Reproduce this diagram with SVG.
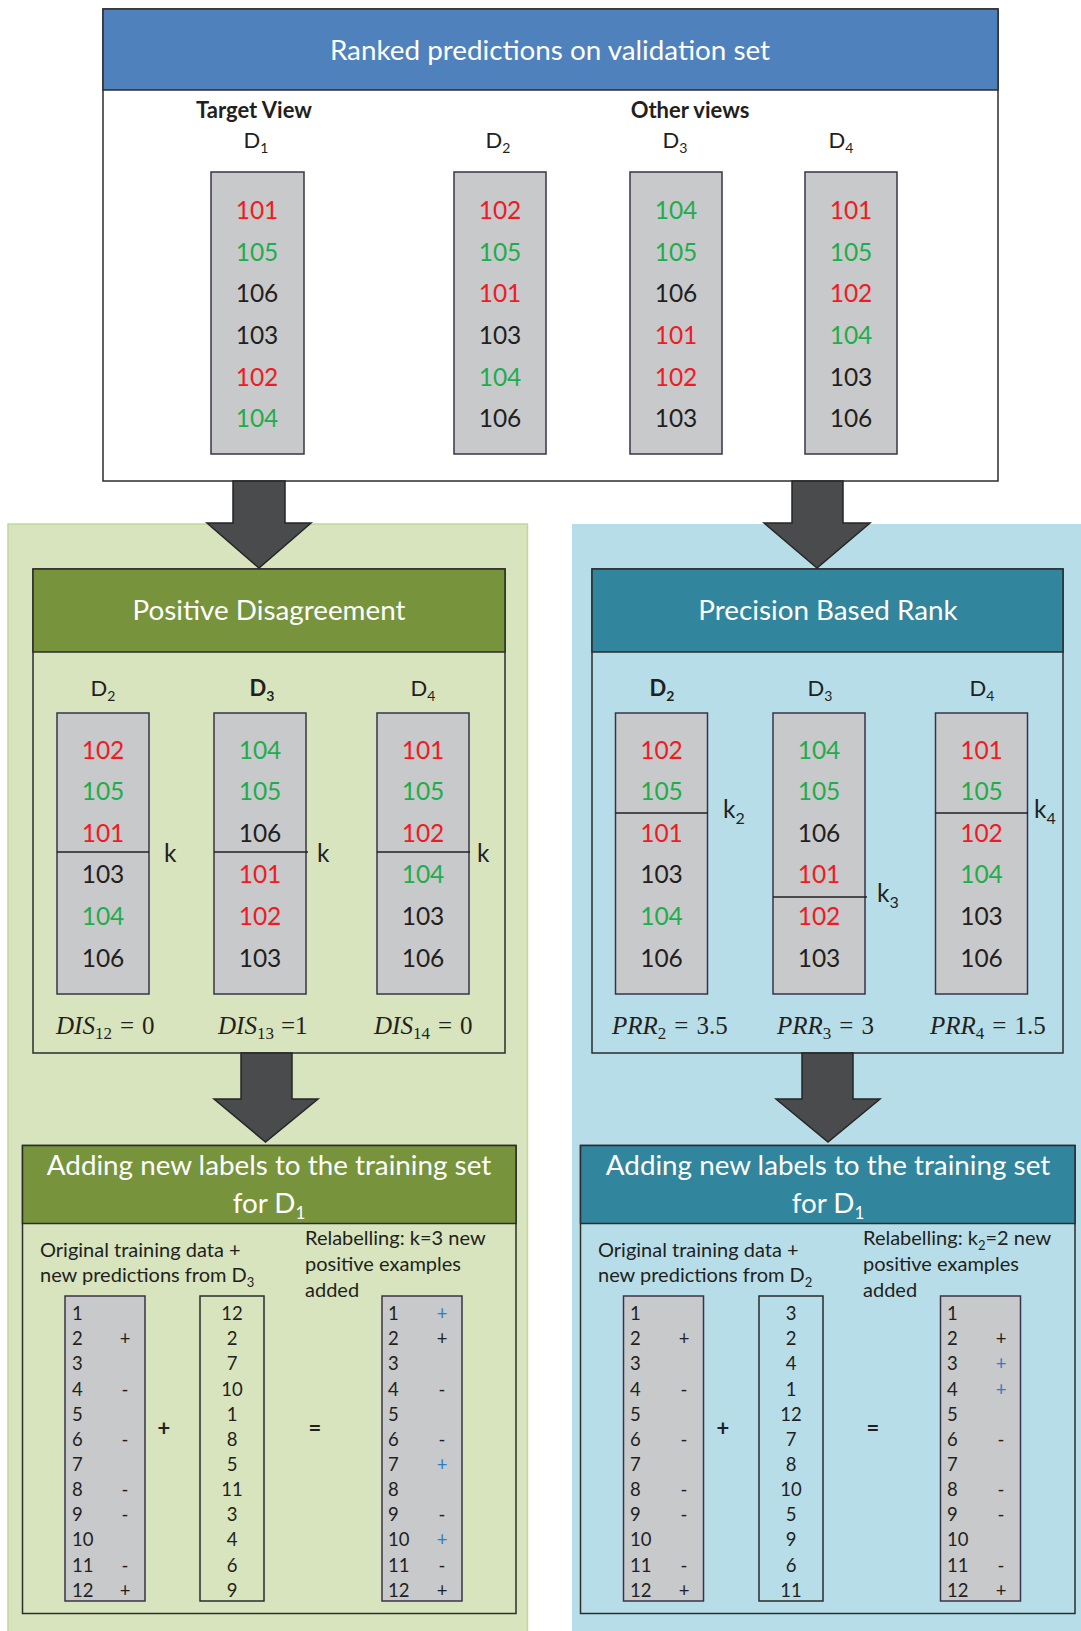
<svg xmlns="http://www.w3.org/2000/svg" width="1081" height="1631" viewBox="0 0 1081 1631">
<style>
text{font-family:Lato,"Liberation Sans",sans-serif;fill:#231F20}
.hdr{font-size:27.8px;fill:#fff;text-anchor:middle}
.hdr tspan{fill:#fff}
.lbl{font-size:22px;text-anchor:middle}
.bold{font-weight:bold}
.num{font-size:24.5px;text-anchor:middle}
.ks{font-size:24.5px;text-anchor:start}
.r{fill:#ED1C24}
.g{fill:#1EAD4B}
.col{fill:#C8C9CB;stroke:#3B3349;stroke-width:1.5}
.col2{fill:none;stroke:#2B2B2B;stroke-width:1.5}
.frame{fill:none;stroke:#2D2D2D;stroke-width:1.5}
.arrow{fill:#4A4B4D;stroke:#262626;stroke-width:1.5}
.math{font-family:"Liberation Serif",serif;font-size:25px}
.it{font-style:italic}
.tb{font-size:18.5px}
.tbm{font-size:18.5px;text-anchor:middle}
.body{font-size:20px}
.op{font-size:22px;font-weight:bold;text-anchor:middle}
.blue{fill:#2F7DC8}
.kl{stroke:#231F20;stroke-width:1.5}
</style>

<g id="panel-green"><rect x="8" y="524" width="519.5" height="1108" fill="#D7E4BD" stroke="#C3D69B" stroke-width="1.5"/></g>
<g id="panel-blue"><rect x="572" y="524" width="510" height="1108" fill="#B7DEE8"/></g>

<g id="node-ranked">
<rect x="103" y="9" width="895" height="472" fill="#fff" stroke="#2D2D2D" stroke-width="1.5"/>
<rect x="103" y="9" width="895" height="81" fill="#4F81BD" stroke="#2D2D2D" stroke-width="1.5"/>
<text class="hdr" x="550" y="60">Ranked predictions on validation set</text>
<text class="lbl bold" x="254" y="118" font-size="22.5">Target View</text>
<text class="lbl bold" x="690" y="118" font-size="22.5">Other views</text>
<text class="lbl" x="256" y="148">D<tspan font-size="14" dy="5">1</tspan></text>
<text class="lbl" x="498" y="148">D<tspan font-size="14" dy="5">2</tspan></text>
<text class="lbl" x="675" y="148">D<tspan font-size="14" dy="5">3</tspan></text>
<text class="lbl" x="841" y="148">D<tspan font-size="14" dy="5">4</tspan></text>
<rect class="col" x="211" y="172" width="93" height="282" stroke="#231F20"/>
<rect class="col" x="454" y="172" width="92" height="282"/>
<rect class="col" x="630" y="172" width="92" height="282"/>
<rect class="col" x="805" y="172" width="92" height="282"/>
<text class="num"><tspan x="257" y="219" class="r">101</tspan><tspan x="257" y="261" class="g">105</tspan><tspan x="257" y="302">106</tspan><tspan x="257" y="344">103</tspan><tspan x="257" y="386" class="r">102</tspan><tspan x="257" y="427" class="g">104</tspan></text>
<text class="num"><tspan x="500" y="219" class="r">102</tspan><tspan x="500" y="261" class="g">105</tspan><tspan x="500" y="302" class="r">101</tspan><tspan x="500" y="344">103</tspan><tspan x="500" y="386" class="g">104</tspan><tspan x="500" y="427">106</tspan></text>
<text class="num"><tspan x="676" y="219" class="g">104</tspan><tspan x="676" y="261" class="g">105</tspan><tspan x="676" y="302">106</tspan><tspan x="676" y="344" class="r">101</tspan><tspan x="676" y="386" class="r">102</tspan><tspan x="676" y="427">103</tspan></text>
<text class="num"><tspan x="851" y="219" class="r">101</tspan><tspan x="851" y="261" class="g">105</tspan><tspan x="851" y="302" class="r">102</tspan><tspan x="851" y="344" class="g">104</tspan><tspan x="851" y="386">103</tspan><tspan x="851" y="427">106</tspan></text>
</g>

<g id="node-pd">
<rect class="frame" x="33" y="569" width="472" height="484"/>
<rect x="33" y="569" width="472" height="83" fill="#77933C" stroke="#2D2D2D" stroke-width="1.5"/>
<text class="hdr" x="269" y="620">Positive Disagreement</text>
<text class="lbl" x="103" y="696">D<tspan font-size="14" dy="5">2</tspan></text>
<text class="lbl bold" x="262" y="696">D<tspan font-size="14" dy="5">3</tspan></text>
<text class="lbl" x="423" y="696">D<tspan font-size="14" dy="5">4</tspan></text>
<rect class="col" x="57" y="713" width="92" height="281"/>
<rect class="col" x="214" y="713" width="92" height="281"/>
<rect class="col" x="377" y="713" width="92" height="281"/>
<line class="kl" x1="57" y1="852" x2="149" y2="852"/>
<line class="kl" x1="214" y1="852" x2="308" y2="852"/>
<line class="kl" x1="377" y1="852" x2="470" y2="852"/>
<text class="ks" x="164" y="862">k</text>
<text class="ks" x="317" y="862">k</text>
<text class="ks" x="477" y="862">k</text>
<text class="num"><tspan x="103" y="759" class="r">102</tspan><tspan x="103" y="800" class="g">105</tspan><tspan x="103" y="842" class="r">101</tspan><tspan x="103" y="883">103</tspan><tspan x="103" y="925" class="g">104</tspan><tspan x="103" y="967">106</tspan></text>
<text class="num"><tspan x="260" y="759" class="g">104</tspan><tspan x="260" y="800" class="g">105</tspan><tspan x="260" y="842">106</tspan><tspan x="260" y="883" class="r">101</tspan><tspan x="260" y="925" class="r">102</tspan><tspan x="260" y="967">103</tspan></text>
<text class="num"><tspan x="423" y="759" class="r">101</tspan><tspan x="423" y="800" class="g">105</tspan><tspan x="423" y="842" class="r">102</tspan><tspan x="423" y="883" class="g">104</tspan><tspan x="423" y="925">103</tspan><tspan x="423" y="967">106</tspan></text>
<text class="math" x="56" y="1034"><tspan class="it">DIS</tspan><tspan font-size="17" dy="5">12</tspan><tspan dy="-5" dx="8">=</tspan><tspan dx="8">0</tspan></text>
<text class="math" x="218" y="1034"><tspan class="it">DIS</tspan><tspan font-size="17" dy="5">13</tspan><tspan dy="-5" dx="7">=1</tspan></text>
<text class="math" x="374" y="1034"><tspan class="it">DIS</tspan><tspan font-size="17" dy="5">14</tspan><tspan dy="-5" dx="8">=</tspan><tspan dx="8">0</tspan></text>
</g>

<g id="node-pbr">
<rect class="frame" x="592" y="569" width="471" height="484"/>
<rect x="592" y="569" width="471" height="83" fill="#31859C" stroke="#2D2D2D" stroke-width="1.5"/>
<text class="hdr" x="828" y="620">Precision Based Rank</text>
<text class="lbl bold" x="662" y="696">D<tspan font-size="14" dy="5">2</tspan></text>
<text class="lbl" x="820" y="696">D<tspan font-size="14" dy="5">3</tspan></text>
<text class="lbl" x="982" y="696">D<tspan font-size="14" dy="5">4</tspan></text>
<rect class="col" x="615.5" y="713" width="92" height="281"/>
<rect class="col" x="773" y="713" width="92" height="281"/>
<rect class="col" x="935.5" y="713" width="92" height="281"/>
<line class="kl" x1="615.5" y1="813" x2="707.5" y2="813"/>
<line class="kl" x1="773" y1="897" x2="867" y2="897"/>
<line class="kl" x1="935.5" y1="813" x2="1028" y2="813"/>
<text class="ks" x="723" y="818">k<tspan font-size="16" dy="6">2</tspan></text>
<text class="ks" x="877" y="902">k<tspan font-size="16" dy="6">3</tspan></text>
<text class="ks" x="1034" y="818">k<tspan font-size="16" dy="6">4</tspan></text>
<text class="num"><tspan x="661.5" y="759" class="r">102</tspan><tspan x="661.5" y="800" class="g">105</tspan><tspan x="661.5" y="842" class="r">101</tspan><tspan x="661.5" y="883">103</tspan><tspan x="661.5" y="925" class="g">104</tspan><tspan x="661.5" y="967">106</tspan></text>
<text class="num"><tspan x="819" y="759" class="g">104</tspan><tspan x="819" y="800" class="g">105</tspan><tspan x="819" y="842">106</tspan><tspan x="819" y="883" class="r">101</tspan><tspan x="819" y="925" class="r">102</tspan><tspan x="819" y="967">103</tspan></text>
<text class="num"><tspan x="981.5" y="759" class="r">101</tspan><tspan x="981.5" y="800" class="g">105</tspan><tspan x="981.5" y="842" class="r">102</tspan><tspan x="981.5" y="883" class="g">104</tspan><tspan x="981.5" y="925">103</tspan><tspan x="981.5" y="967">106</tspan></text>
<text class="math" x="612" y="1034"><tspan class="it">PRR</tspan><tspan font-size="17" dy="5">2</tspan><tspan dy="-5" dx="8">=</tspan><tspan dx="8">3.5</tspan></text>
<text class="math" x="777" y="1034"><tspan class="it">PRR</tspan><tspan font-size="17" dy="5">3</tspan><tspan dy="-5" dx="8">=</tspan><tspan dx="8">3</tspan></text>
<text class="math" x="930" y="1034"><tspan class="it">PRR</tspan><tspan font-size="17" dy="5">4</tspan><tspan dy="-5" dx="8">=</tspan><tspan dx="8">1.5</tspan></text>
</g>

<g id="node-add-left">
<rect class="frame" x="22.5" y="1145.5" width="493.5" height="468"/>
<rect x="22.5" y="1145.5" width="493.5" height="78" fill="#77933C" stroke="#2D2D2D" stroke-width="1.5"/>
<text class="hdr" x="269" y="1175">Adding new labels to the training set</text>
<text class="hdr" x="269" y="1213">for D<tspan font-size="17" dy="6">1</tspan></text>
<text class="body" x="40" y="1257">Original training data +</text>
<text class="body" x="40" y="1282">new predictions from D<tspan font-size="13" dy="5">3</tspan></text>
<text class="body" x="305" y="1245">Relabelling: k=3 new</text>
<text class="body" x="305" y="1271">positive examples</text>
<text class="body" x="305" y="1297">added</text>
<rect class="col" x="65" y="1296" width="80" height="305" stroke="#2B2B2B"/>
<rect class="col2" x="200" y="1296" width="64" height="305"/>
<rect class="col" x="382" y="1296" width="80" height="305" stroke="#2B2B2B"/>
<text class="tb"><tspan x="72" y="1320">1</tspan><tspan x="72" y="1345">2</tspan><tspan x="72" y="1370">3</tspan><tspan x="72" y="1396">4</tspan><tspan x="72" y="1421">5</tspan><tspan x="72" y="1446">6</tspan><tspan x="72" y="1471">7</tspan><tspan x="72" y="1496">8</tspan><tspan x="72" y="1521">9</tspan><tspan x="72" y="1546">10</tspan><tspan x="72" y="1572">11</tspan><tspan x="72" y="1597">12</tspan></text>
<text class="tbm"><tspan x="125" y="1345">+</tspan><tspan x="125" y="1396">-</tspan><tspan x="125" y="1446">-</tspan><tspan x="125" y="1496">-</tspan><tspan x="125" y="1521">-</tspan><tspan x="125" y="1572">-</tspan><tspan x="125" y="1597">+</tspan></text>
<text class="tbm"><tspan x="232" y="1320">12</tspan><tspan x="232" y="1345">2</tspan><tspan x="232" y="1370">7</tspan><tspan x="232" y="1396">10</tspan><tspan x="232" y="1421">1</tspan><tspan x="232" y="1446">8</tspan><tspan x="232" y="1471">5</tspan><tspan x="232" y="1496">11</tspan><tspan x="232" y="1521">3</tspan><tspan x="232" y="1546">4</tspan><tspan x="232" y="1572">6</tspan><tspan x="232" y="1597">9</tspan></text>
<text class="op" x="164" y="1436">+</text>
<text class="op" x="315" y="1436">=</text>
<text class="tb"><tspan x="388" y="1320">1</tspan><tspan x="388" y="1345">2</tspan><tspan x="388" y="1370">3</tspan><tspan x="388" y="1396">4</tspan><tspan x="388" y="1421">5</tspan><tspan x="388" y="1446">6</tspan><tspan x="388" y="1471">7</tspan><tspan x="388" y="1496">8</tspan><tspan x="388" y="1521">9</tspan><tspan x="388" y="1546">10</tspan><tspan x="388" y="1572">11</tspan><tspan x="388" y="1597">12</tspan></text>
<text class="tbm"><tspan x="442" y="1320" class="blue">+</tspan><tspan x="442" y="1345">+</tspan><tspan x="442" y="1396">-</tspan><tspan x="442" y="1446">-</tspan><tspan x="442" y="1471" class="blue">+</tspan><tspan x="442" y="1521">-</tspan><tspan x="442" y="1546" class="blue">+</tspan><tspan x="442" y="1572">-</tspan><tspan x="442" y="1597">+</tspan></text>
</g>

<g id="node-add-right">
<rect class="frame" x="580.5" y="1145.5" width="494.5" height="468"/>
<rect x="580.5" y="1145.5" width="494.5" height="78" fill="#31859C" stroke="#2D2D2D" stroke-width="1.5"/>
<text class="hdr" x="828" y="1175">Adding new labels to the training set</text>
<text class="hdr" x="828" y="1213">for D<tspan font-size="17" dy="6">1</tspan></text>
<text class="body" x="598" y="1257">Original training data +</text>
<text class="body" x="598" y="1282">new predictions from D<tspan font-size="13" dy="5">2</tspan></text>
<text class="body" x="863" y="1245">Relabelling: k<tspan font-size="13" dy="5">2</tspan><tspan dy="-5">=2 new</tspan></text>
<text class="body" x="863" y="1271">positive examples</text>
<text class="body" x="863" y="1297">added</text>
<rect class="col" x="623.5" y="1296" width="80" height="305" stroke="#2B2B2B"/>
<rect class="col2" x="759" y="1296" width="64" height="305"/>
<rect class="col" x="940.5" y="1296" width="80" height="305" stroke="#2B2B2B"/>
<text class="tb"><tspan x="630" y="1320">1</tspan><tspan x="630" y="1345">2</tspan><tspan x="630" y="1370">3</tspan><tspan x="630" y="1396">4</tspan><tspan x="630" y="1421">5</tspan><tspan x="630" y="1446">6</tspan><tspan x="630" y="1471">7</tspan><tspan x="630" y="1496">8</tspan><tspan x="630" y="1521">9</tspan><tspan x="630" y="1546">10</tspan><tspan x="630" y="1572">11</tspan><tspan x="630" y="1597">12</tspan></text>
<text class="tbm"><tspan x="684" y="1345">+</tspan><tspan x="684" y="1396">-</tspan><tspan x="684" y="1446">-</tspan><tspan x="684" y="1496">-</tspan><tspan x="684" y="1521">-</tspan><tspan x="684" y="1572">-</tspan><tspan x="684" y="1597">+</tspan></text>
<text class="tbm"><tspan x="791" y="1320">3</tspan><tspan x="791" y="1345">2</tspan><tspan x="791" y="1370">4</tspan><tspan x="791" y="1396">1</tspan><tspan x="791" y="1421">12</tspan><tspan x="791" y="1446">7</tspan><tspan x="791" y="1471">8</tspan><tspan x="791" y="1496">10</tspan><tspan x="791" y="1521">5</tspan><tspan x="791" y="1546">9</tspan><tspan x="791" y="1572">6</tspan><tspan x="791" y="1597">11</tspan></text>
<text class="op" x="723" y="1436">+</text>
<text class="op" x="873" y="1436">=</text>
<text class="tb"><tspan x="947" y="1320">1</tspan><tspan x="947" y="1345">2</tspan><tspan x="947" y="1370">3</tspan><tspan x="947" y="1396">4</tspan><tspan x="947" y="1421">5</tspan><tspan x="947" y="1446">6</tspan><tspan x="947" y="1471">7</tspan><tspan x="947" y="1496">8</tspan><tspan x="947" y="1521">9</tspan><tspan x="947" y="1546">10</tspan><tspan x="947" y="1572">11</tspan><tspan x="947" y="1597">12</tspan></text>
<text class="tbm"><tspan x="1001" y="1345">+</tspan><tspan x="1001" y="1370" class="blue">+</tspan><tspan x="1001" y="1396" class="blue">+</tspan><tspan x="1001" y="1446">-</tspan><tspan x="1001" y="1496">-</tspan><tspan x="1001" y="1521">-</tspan><tspan x="1001" y="1572">-</tspan><tspan x="1001" y="1597">+</tspan></text>
</g>

<g id="connectors">
<polygon class="arrow" points="233,481 285,481 285,523 311,523 259,568 207,523 233,523"/>
<polygon class="arrow" points="792,481 843,481 843,523 870,523 817,568 764,523 792,523"/>
<polygon class="arrow" points="241,1053 292,1053 292,1099 318,1099 265.5,1142 214,1099 241,1099"/>
<polygon class="arrow" points="802,1053 853,1053 853,1099 880,1099 828,1142 776,1099 802,1099"/>
</g>
</svg>
